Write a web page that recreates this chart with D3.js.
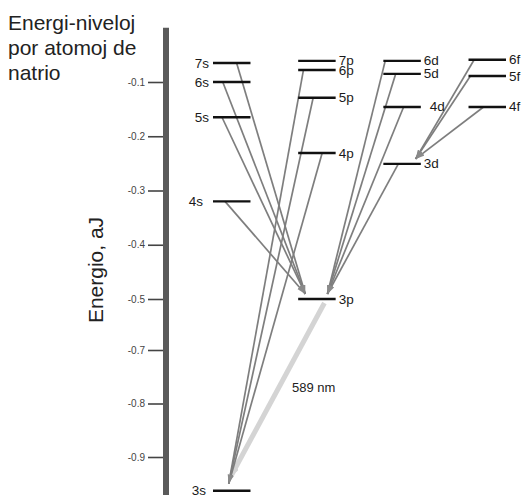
<!DOCTYPE html>
<html>
<head>
<meta charset="utf-8">
<script src="https://cdn.jsdelivr.net/npm/d3@7"></script>
<style>
  html, body { margin: 0; padding: 0; background: #ffffff; }
  svg { display: block; font-family: "Liberation Sans", Arial, sans-serif; }
</style>
</head>
<body>
<svg id="chart" width="527" height="495"></svg>
<script>
// ---- data ----
const titleLines = ["Energi-niveloj", "por atomoj de", "natrio"];
const axisTitle = "Energio, aJ";
const tickValues = [-0.1, -0.2, -0.3, -0.4, -0.5, -0.7, -0.8, -0.9];
const tickLabels = ["-0.1", "-0.2", "-0.3", "-0.4", "-0.5", "-0.7", "-0.8", "-0.9"];
const columns = ["s", "p", "d", "f"];
const levelNames    = ["3s", "4s", "5s", "6s", "7s", "3p", "4p", "5p", "6p", "7p", "3d", "4d", "5d", "6d", "4f", "5f", "6f"];
const levelColumns  = ["s", "s", "s", "s", "s", "p", "p", "p", "p", "p", "d", "d", "d", "d", "f", "f", "f"];
const levelEnergies = [-0.963, -0.32, -0.165, -0.10, -0.065, -0.5, -0.231, -0.129, -0.078, -0.061, -0.251, -0.146, -0.085, -0.061, -0.146, -0.089, -0.059];
const transFrom = ["7s", "6s", "5s", "4s", "6d", "5d", "4d", "3d", "6f", "5f", "4f", "6p", "5p", "4p", "3p"];
const transTo   = ["3p", "3p", "3p", "3p", "3p", "3p", "3p", "3p", "3d", "3d", "3d", "3s", "3s", "3s", "3s"];
const lineLabel = "589 nm";

// ---- layout (positions along level bars, not data) ----
const startFrac = {"7s": .63, "6s": .26, "5s": .24, "4s": .32, "6d": .05, "5d": .33, "4d": .54, "3d": .40,
                   "6f": .15, "5f": .05, "4f": .40, "6p": .14, "5p": .40, "4p": .64, "3p": .70};
const endFrac = {"3p|s": .19, "3p|d": .78, "3d|f": .86, "3s|p": .42, "3s|3p": .47};
const labelGap = {"4s": 10, "3s": 7, "4d": 9};

const W = 527, H = 495;
const svg = d3.select("#chart");

const y = d3.scaleLinear().domain([-0.1, -0.5, -0.7, -0.9]).range([82, 299, 350, 457]);
const x = d3.scaleBand().domain(columns).range([213, 506]).paddingInner(0.56).paddingOuter(0);
const bw = x.bandwidth();

const levels = levelNames.map((n, i) => ({name: n, col: levelColumns[i], e: levelEnergies[i]}));
const byName = Object.fromEntries(levels.map(l => [l.name, l]));

// title
svg.append("g").selectAll("text").data(titleLines).join("text")
  .attr("x", 8).attr("y", (d, i) => 30 + i * 25)
  .attr("font-size", 21).attr("fill", "#222").text(d => d);

// axis title
svg.append("text")
  .attr("transform", `translate(103,270) rotate(-90)`)
  .attr("text-anchor", "middle").attr("font-size", 21).attr("fill", "#222")
  .text(axisTitle);

// axis bar
const axisX = 163;
svg.append("rect").attr("x", axisX).attr("y", y(0)).attr("width", 6).attr("height", H - y(0))
  .attr("fill", "#5a5a5a");

const axis = d3.axisLeft(y).tickValues(tickValues).tickFormat((d, i) => tickLabels[i])
  .tickSize(15).tickPadding(3);
const ag = svg.append("g").attr("transform", `translate(${axisX},0)`).call(axis);
ag.select(".domain").remove();
ag.selectAll(".tick line").attr("stroke", "#444").attr("stroke-width", 1.6);
ag.selectAll(".tick text").attr("font-size", 10).attr("fill", "#444")
  .attr("font-family", "Liberation Sans, Arial, sans-serif");

// markers
const defs = svg.append("defs");
defs.append("marker").attr("id", "arr").attr("viewBox", "0 0 10 6")
  .attr("markerUnits", "userSpaceOnUse").attr("markerWidth", 9).attr("markerHeight", 6)
  .attr("refX", 10).attr("refY", 3).attr("orient", "auto")
  .append("path").attr("d", "M0,0 L10,3 L0,6 Z").attr("fill", "#8a8a8a");
defs.append("marker").attr("id", "arrLight").attr("viewBox", "0 0 10 8")
  .attr("markerUnits", "userSpaceOnUse").attr("markerWidth", 10).attr("markerHeight", 8)
  .attr("refX", 10).attr("refY", 4).attr("orient", "auto")
  .append("path").attr("d", "M0,0 L10,4 L0,8 Z").attr("fill", "#d4d4d4");

// transitions
const trans = transFrom.map((f, i) => {
  const a = byName[f], b = byName[transTo[i]];
  const key = a.name === "3p" ? "3s|3p" : `${b.name}|${a.col}`;
  const light = a.name === "3p";
  return {
    light,
    x1: x(a.col) + startFrac[a.name] * bw,
    y1: y(a.e) + (light ? 4 : 0),
    x2: x(b.col) + endFrac[key] * bw,
    y2: y(b.e) - (light ? 14 : (b.name === "3s" ? 7 : 5))
  };
});

svg.append("g").selectAll("line").data(trans.filter(t => t.light)).join("line")
  .attr("x1", d => d.x1).attr("y1", d => d.y1).attr("x2", d => d.x2).attr("y2", d => d.y2)
  .attr("stroke", "#d4d4d4").attr("stroke-width", 5).attr("marker-end", "url(#arrLight)");

svg.append("g").selectAll("line").data(trans.filter(t => !t.light)).join("line")
  .attr("x1", d => d.x1).attr("y1", d => d.y1).attr("x2", d => d.x2).attr("y2", d => d.y2)
  .attr("stroke", "#7e7e7e").attr("stroke-width", 1.7).attr("marker-end", "url(#arr)");

// level bars
svg.append("g").selectAll("line").data(levels).join("line")
  .attr("x1", d => x(d.col)).attr("x2", d => x(d.col) + bw)
  .attr("y1", d => y(d.e)).attr("y2", d => y(d.e))
  .attr("stroke", "#111").attr("stroke-width", 2.4);

// level labels
svg.append("g").selectAll("text").data(levels).join("text")
  .attr("x", d => d.col === "s" ? x(d.col) - (labelGap[d.name] || 4) : x(d.col) + bw + (labelGap[d.name] || 3))
  .attr("y", d => y(d.e) + 4.5)
  .attr("text-anchor", d => d.col === "s" ? "end" : "start")
  .attr("font-size", 13.5).attr("fill", "#1a1a1a")
  .text(d => d.name);

// 589 nm label
svg.append("text").attr("x", 292).attr("y", y(-0.7) + 42)
  .attr("font-size", 13).attr("fill", "#222").text(lineLabel);
</script>
</body>
</html>
